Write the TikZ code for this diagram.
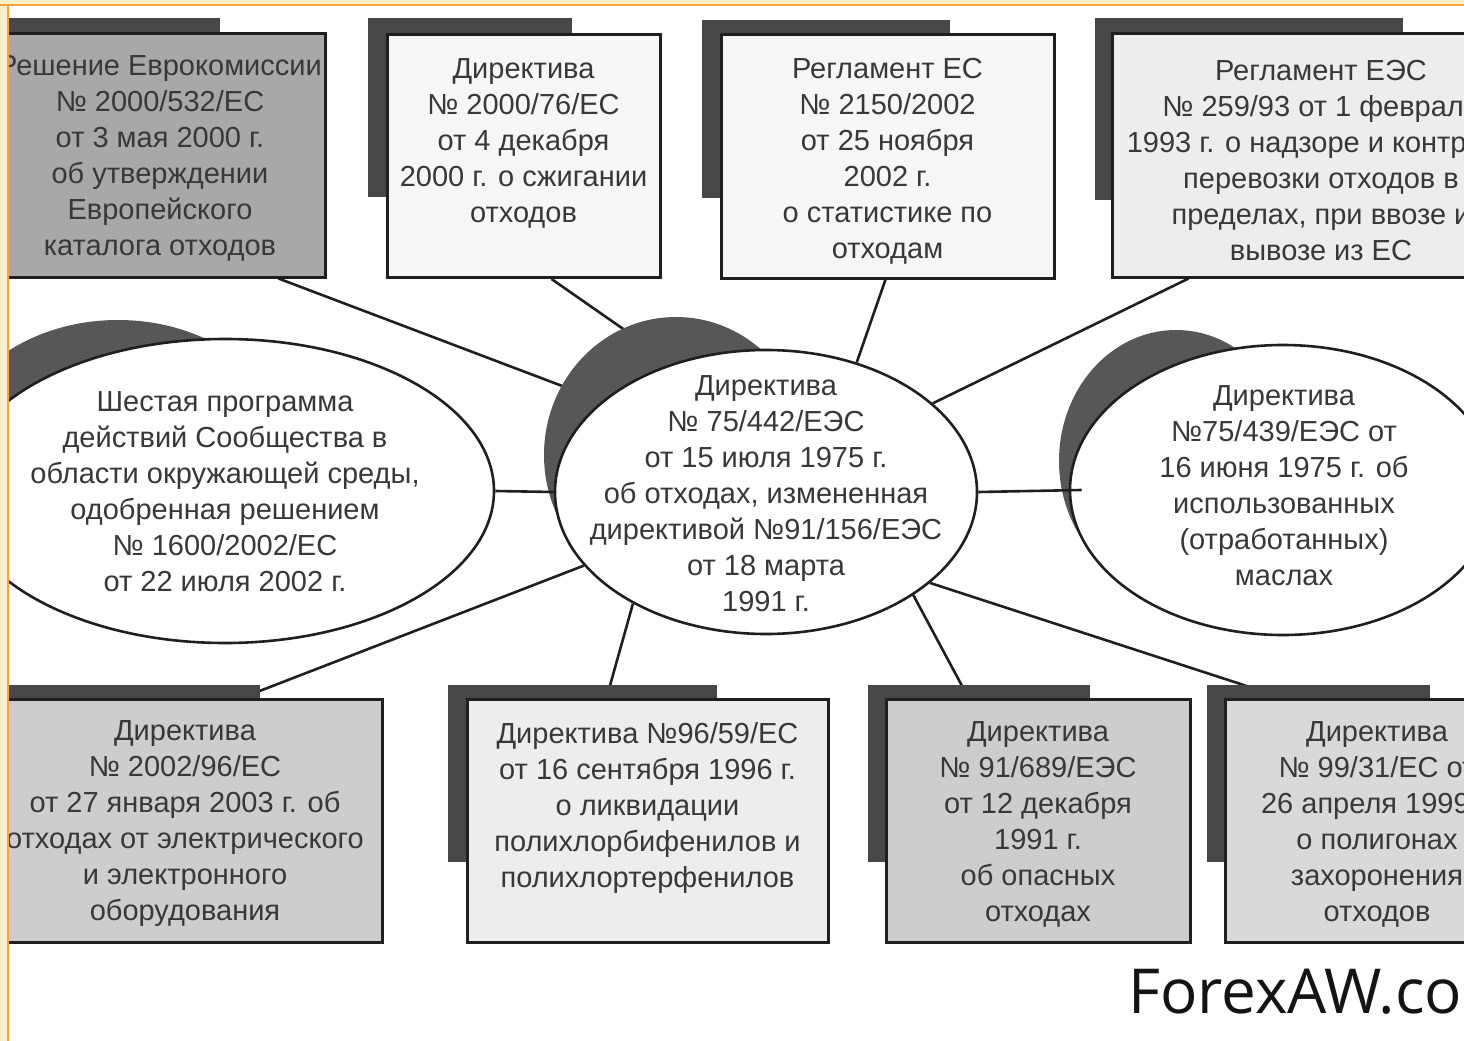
\documentclass[tikz,border=0pt]{standalone}
\usepackage{fontspec}
\setmainfont{Liberation Sans}
\newfontfamily\wmfont{Open Sans}
\usetikzlibrary{shapes.geometric}
\pgfdeclarelayer{bg}
\pgfdeclarelayer{fg}
\pgfsetlayers{bg,main,fg}
\definecolor{frameorange}{HTML}{F2A63A}
\definecolor{framepale}{HTML}{FCEFC8}
\definecolor{gdark}{HTML}{A8A8A8}
\definecolor{gmid}{HTML}{CDCDCD}
\definecolor{glight}{HTML}{D9D9D9}
\definecolor{gpale}{HTML}{EDEDED}
\definecolor{gwhite}{HTML}{F6F6F6}
\begin{document}
\begin{tikzpicture}[x=1pt,y=-1pt,
  box/.style={draw=black!88, line width=3pt, inner sep=0pt, minimum height=243pt},
  bshadow/.style={fill=black!72},
  ell/.style={ellipse, draw=black!88, line width=2.6pt, fill=white, inner sep=0pt},
  eshadow/.style={fill=black!66},
  lbl/.style={text=black!78, align=center, font=\fontsize{29}{36}\selectfont, inner sep=0pt},
  link/.style={draw=black!88, line width=2.6pt}]
\useasboundingbox (0,0) rectangle (1464,1041);

% top row boxes
\fill[bshadow] (-30,18) rectangle (220,197);
\node[box, fill=gdark, minimum width=330pt] (b1) at (160,155.5) {};
\fill[bshadow] (368,18) rectangle (572,197);
\node[box, fill=gwhite, minimum width=273pt] (b2) at (523.5,156) {};
\fill[bshadow] (702,20) rectangle (950,198);
\node[box, fill=gwhite, minimum width=333pt] (b3) at (887.5,156.5) {};
\fill[bshadow] (1095,18) rectangle (1403,200);
\node[box, fill=gpale, minimum width=418pt] (b4) at (1321,155.5) {};

% bottom row boxes
\fill[bshadow] (-30,685) rectangle (260,862);
\node[box, fill=gmid, minimum width=394pt] (b5) at (185,821) {};
\fill[bshadow] (448,685) rectangle (717,862);
\node[box, fill=gpale, minimum width=361pt] (b6) at (647.5,821) {};
\fill[bshadow] (868,685) rectangle (1090,862);
\node[box, fill=gmid, minimum width=304pt] (b7) at (1038,821) {};
\fill[bshadow] (1207,685) rectangle (1430,862);
\node[box, fill=glight, minimum width=304pt] (b8) at (1377,821) {};

% ellipses
\fill[eshadow] (118,462) ellipse [x radius=176pt, y radius=142pt];
\node[ell, minimum width=538pt, minimum height=304pt] (le) at (225,491) {};
\fill[eshadow] (676,455) ellipse [x radius=132pt, y radius=138pt];
\node[ell, minimum width=422pt, minimum height=284pt] (c) at (766,492) {};
\fill[eshadow] (1176,461) ellipse [x radius=117pt, y radius=131pt];
\node[ell, minimum width=426pt, minimum height=290pt] (re) at (1283,490) {};

% background and connectors (below everything)
\begin{pgfonlayer}{bg}
\fill[white] (0,0) rectangle (1464,1041);
\draw[link] ([xshift=-48pt]b1.south east) -- (c.151);
\draw[link] ([xshift=166pt]b2.south west) -- (c.126);
\draw[link] ([xshift=-2pt]b3.south) -- (c.55);
\draw[link] ([xshift=78pt]b4.south west) -- (c.28);
\draw[link] ([xshift=-142pt]b5.north east) -- (c.202);
\draw[link] ([xshift=141pt]b6.north west) -- (c.220);
\draw[link] ([xshift=84pt]b7.north west) -- (c.-35);
\draw[link] ([xshift=60pt]b8.north west) -- (c.-29);
\end{pgfonlayer}
\draw[link] (le.east) -- (c.west);
\draw[link] (c.east) -- ([xshift=13pt]re.west);

% labels
\node[lbl] (t1) at (160,158.5) {Решение Еврокомиссии\\№ 2000/532/ЕС\\от 3 мая 2000 г.\\об утверждении\\Европейского\\каталога отходов};
\node[lbl] (t2) at (523.5,143.5) {Директива\\№ 2000/76/ЕС\\от 4 декабря\\2000 г. о сжигании\\отходов};
\node[lbl] (t3) at (887.5,161.5) {Регламент ЕС\\№ 2150/2002\\от 25 ноября\\2002 г.\\о статистике по\\отходам};
\node[lbl] (t4) at (1321,161) {Регламент ЕЭС\\№ 259/93 от 1 февраля\\1993 г. о надзоре и контроле\\перевозки отходов в\\пределах, при ввозе и\\вывозе из ЕС};
\node[lbl] (tl) at (225,492) {Шестая программа\\действий Сообщества в\\области окружающей среды,\\одобренная решением\\№ 1600/2002/ЕС\\от 22 июля 2002 г.};
\node[lbl] (tc) at (766,494) {Директива\\№ 75/442/ЕЭС\\от 15 июля 1975 г.\\об отходах, измененная\\директивой №91/156/ЕЭС\\от 18 марта\\1991 г.};
\node[lbl] (tr) at (1284,486) {Директива\\№75/439/ЕЭС от\\16 июня 1975 г. об\\использованных\\(отработанных)\\маслах};
\node[lbl] (t5) at (185,824) {Директива\\№ 2002/96/ЕС\\от 27 января 2003 г. об\\отходах от электрического\\и электронного\\оборудования};
\node[lbl] (t6) at (647.5,807.5) {Директива №96/59/ЕС\\от 16 сентября 1996 г.\\о ликвидации\\полихлорбифенилов и\\полихлортерфенилов};
\node[lbl] (t7) at (1038,824) {Директива\\№ 91/689/ЕЭС\\от 12 декабря\\1991 г.\\об опасных\\отходах};
\node[lbl] (t8) at (1377,824) {Директива\\№ 99/31/ЕС от\\26 апреля 1999 г.\\о полигонах\\захоронения\\отходов};

\node[anchor=base west, inner sep=0pt, text=black!92, font=\wmfont\fontsize{62}{62}\selectfont] (wm) at (1128,1013) {ForexAW.com};

% frame
\begin{pgfonlayer}{fg}
\fill[framepale] (0,0) rectangle (1464,5);
\fill[framepale] (0,0) rectangle (7,1041);
\draw[frameorange, line width=2pt] (0,5.5) -- (1464,5.5);
\draw[frameorange, line width=2pt] (7.5,5.5) -- (7.5,1041);
\end{pgfonlayer}
\end{tikzpicture}
\end{document}
